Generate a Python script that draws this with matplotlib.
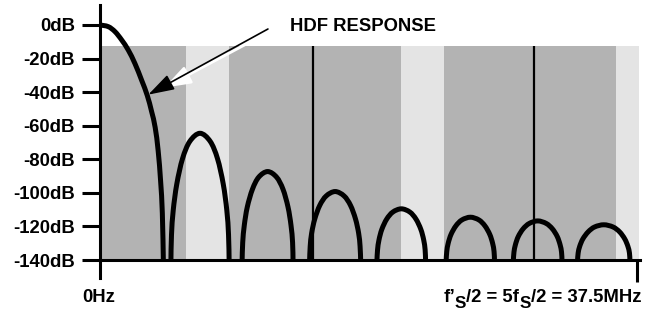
import matplotlib
matplotlib.use("Agg")
import matplotlib.pyplot as plt
from matplotlib.path import Path
from matplotlib.patches import PathPatch
from matplotlib.transforms import offset_copy

plt.rcParams["font.family"] = ["Liberation Sans", "DejaVu Sans"]
plt.rcParams["font.weight"] = "bold"

DARK = "#b3b3b3"
LIGHT = "#e4e4e4"
FS = 13.3

# HDF response (MHz, dB)
main_lobe_mhz = [0.0, 0.58, 1.05, 1.51, 1.97, 2.44, 2.91, 3.3, 3.6, 3.85, 4.06, 4.23, 4.35, 4.42]
main_lobe_db = [0, -1.0, -4.0, -8.9, -14.9, -23, -33, -42, -51.5, -61, -75, -93, -112, -140]

side_lobes_mhz = [
    [4.95, 4.99, 5.11, 5.36, 5.76, 6.27, 6.98, 7.69, 8.20, 8.60, 8.85, 8.97, 9.01],
    [9.92, 9.96, 10.07, 10.28, 10.64, 11.08, 11.70, 12.32, 12.77, 13.12, 13.33, 13.44, 13.47],
    [14.63, 14.67, 14.77, 14.99, 15.34, 15.79, 16.41, 17.03, 17.48, 17.83, 18.05, 18.15, 18.19],
    [19.33, 19.37, 19.47, 19.67, 20.01, 20.44, 21.03, 21.62, 22.05, 22.39, 22.59, 22.69, 22.72],
    [24.16, 24.20, 24.30, 24.50, 24.84, 25.26, 25.85, 26.44, 26.86, 27.20, 27.40, 27.50, 27.53],
    [28.85, 28.89, 28.99, 29.19, 29.53, 29.96, 30.55, 31.14, 31.57, 31.91, 32.11, 32.21, 32.24],
    [33.33, 33.37, 33.48, 33.70, 34.07, 34.52, 35.16, 35.80, 36.26, 36.62, 36.84, 36.95, 36.98],
]
side_lobes_db = [
    [-140, -124.9, -110.4, -94.7, -79.6, -69.3, -64.5, -69.3, -79.6, -94.7, -110.4, -124.9, -140],
    [-140, -129.5, -119.3, -108.4, -97.8, -90.6, -87.3, -90.6, -97.8, -108.4, -119.3, -129.5, -140],
    [-140, -131.8, -124.0, -115.5, -107.4, -101.8, -99.2, -101.8, -107.4, -115.5, -124.0, -131.8, -140],
    [-140, -133.9, -128.0, -121.7, -115.6, -111.4, -109.5, -111.4, -115.6, -121.7, -128.0, -133.9, -140],
    [-140, -134.9, -130.0, -124.7, -119.6, -116.1, -114.5, -116.1, -119.6, -124.7, -130.0, -134.9, -140],
    [-140, -135.3, -130.9, -126.0, -121.4, -118.2, -116.7, -118.2, -121.4, -126.0, -130.9, -135.3, -140],
    [-140, -135.8, -131.8, -127.4, -123.2, -120.3, -119.0, -120.3, -123.2, -127.4, -131.8, -135.8, -140],
]

band_edges_mhz = [0, 6, 9, 21, 24, 36, 37.6]
band_shades = [DARK, LIGHT, DARK, LIGHT, DARK, LIGHT]
band_top_db = -12.5
marker_lines_mhz = [14.85, 30.3]
db_ticks = [0, -20, -40, -60, -80, -100, -120, -140]
db_labels = [f"{t}dB" for t in db_ticks]
nyquist_mhz = 37.5


def smooth_path(xs, ys):
    """Catmull-Rom curve through the read points, as a bezier Path."""
    pts = list(zip(xs, ys))
    verts = [pts[0]]
    codes = [Path.MOVETO]
    for i in range(len(pts) - 1):
        p0 = pts[max(i - 1, 0)]
        p1, p2 = pts[i], pts[i + 1]
        p3 = pts[min(i + 2, len(pts) - 1)]
        c1 = (p1[0] + (p2[0] - p0[0]) / 6, p1[1] + (p2[1] - p0[1]) / 6)
        c2 = (p2[0] - (p3[0] - p1[0]) / 6, p2[1] - (p3[1] - p1[1]) / 6)
        verts += [c1, c2, p2]
        codes += [Path.CURVE4] * 3
    return Path(verts, codes)


fig = plt.figure(figsize=(6.57, 3.11), dpi=100)
ax = fig.add_axes([100 / 657, 33 / 311, 540.2 / 657, 273 / 311])
ax.set_xlim(0, 37.7)
ax.set_ylim(-150.7, 11.9)

# shaded bands
widths = [b - a for a, b in zip(band_edges_mhz[:-1], band_edges_mhz[1:])]
ax.bar(band_edges_mhz[:-1], [band_top_db + 140] * len(widths), width=widths,
       bottom=-140, align="edge", color=band_shades, linewidth=0, zorder=0)
ax.vlines(marker_lines_mhz, -140, band_top_db, color="black", lw=1.6, zorder=1)

# response curve
for f, db in [(main_lobe_mhz, main_lobe_db)] + list(zip(side_lobes_mhz, side_lobes_db)):
    ax.add_patch(PathPatch(smooth_path(f, db), fill=False, edgecolor="black",
                           lw=3.6, joinstyle="round", capstyle="butt", zorder=3))

# axes styling
for side in ("top", "right"):
    ax.spines[side].set_visible(False)
ax.spines["bottom"].set_position(("data", -140))
ax.spines["bottom"].set_linewidth(2.2)
ax.spines["left"].set_linewidth(2.2)
ax.set_yticks(db_ticks, db_labels)
ax.tick_params(axis="y", direction="out", length=13, width=2.2, pad=5,
               labelsize=FS)
ax.set_xticks([nyquist_mhz], [""])
ax.tick_params(axis="x", direction="out", length=16, width=2.2)

ax.annotate("0Hz", xy=(0, -140), xytext=(-13, -30), textcoords="offset points",
            ha="left", va="baseline", fontsize=FS)

# right-hand label built from pieces so the subscripts sit like the original
t1 = ax.annotate("/2 = 37.5MHz", xy=(nyquist_mhz, -140), xytext=(2.7, -30),
                 textcoords="offset points", ha="right", va="baseline",
                 fontsize=FS)
t2 = ax.annotate("S", xy=(0, 0), xycoords=t1, xytext=(0, -3.6),
                 textcoords="offset points", ha="right", va="bottom",
                 fontsize=FS - 1)
t3 = ax.annotate("/2 = 5f", xy=(0, 0), xycoords=t2, xytext=(0, 3.6),
                 textcoords="offset points", ha="right", va="bottom",
                 fontsize=FS)
t4 = ax.annotate("S", xy=(0, 0), xycoords=t3, xytext=(0, -3.6),
                 textcoords="offset points", ha="right", va="bottom",
                 fontsize=FS - 1)
ax.annotate("f\u2019", xy=(0, 0), xycoords=t4, xytext=(0, 3.6),
            textcoords="offset points", ha="right", va="bottom", fontsize=FS)

# annotation
tip = (3.37, -41.5)
tail = (11.72, -2.4)
ax.text(13.26, -0.9, "HDF RESPONSE", ha="left", va="center", fontsize=FS)
shadow_tip = offset_copy(ax.transData, fig=fig, x=16, y=7, units="dots")
shadow_tail = offset_copy(ax.transData, fig=fig, x=1, y=-3, units="dots")
ax.annotate("", xy=tip, xycoords=shadow_tip, xytext=tail, textcoords=shadow_tail,
            arrowprops=dict(arrowstyle="-|>,head_length=0.8,head_width=0.28",
                            mutation_scale=20, color="white", lw=2,
                            shrinkA=0, shrinkB=0), zorder=4)
ax.annotate("", xy=tip, xytext=tail,
            arrowprops=dict(arrowstyle="-|>,head_length=0.8,head_width=0.25",
                            mutation_scale=20, color="black", lw=1.2,
                            shrinkA=0, shrinkB=0), zorder=5)

fig.savefig("out.png", dpi=100)
